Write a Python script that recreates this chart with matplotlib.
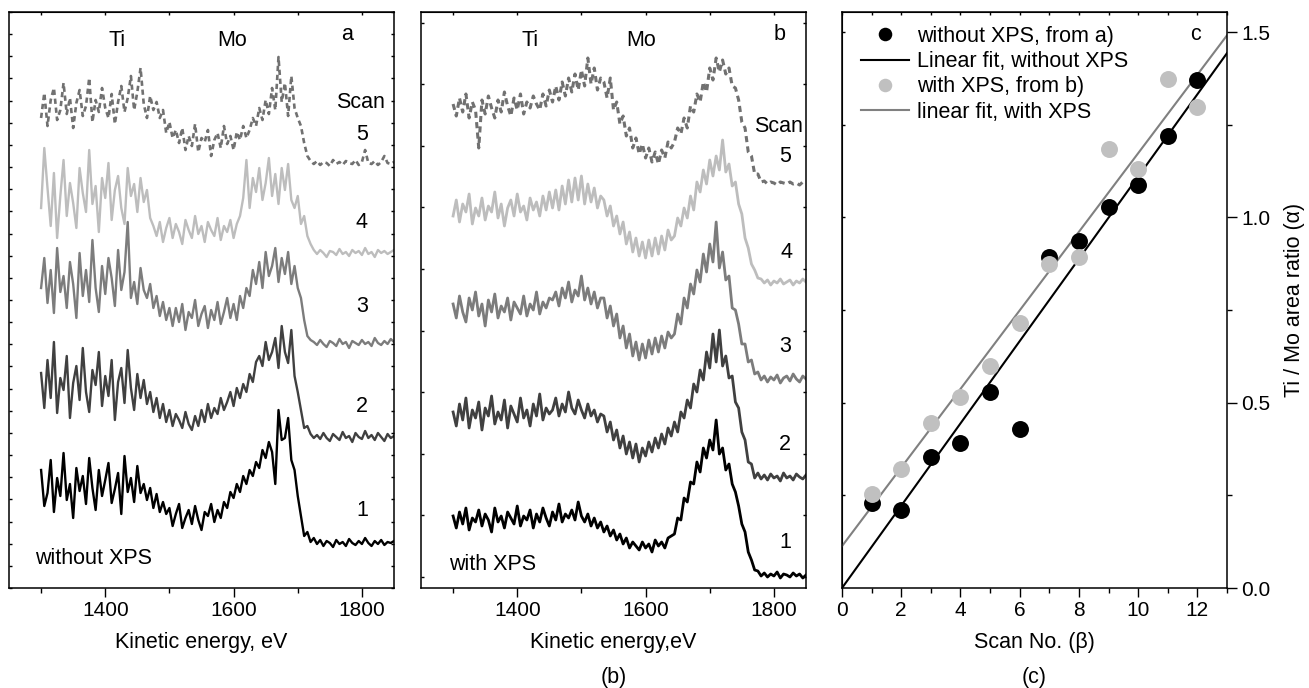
import numpy as np
import matplotlib
matplotlib.use('Agg')
import matplotlib.pyplot as plt
from matplotlib.ticker import FixedLocator

plt.rcParams['font.family'] = ['Liberation Sans', 'DejaVu Sans']

# ---------------- data ----------------
energy = np.arange(1300, 1851, 5)  # kinetic energy grid, eV

# panel a (without XPS), offset intensities, a.u.
a_scan1 = [118, 82, 95, 128, 76, 110, 92, 135, 88, 104, 70, 120, 97, 112, 84, 130, 100, 78, 118, 92, 108, 125, 85, 99, 115, 74, 132, 96, 110, 86, 122, 95, 104,
           88, 100, 80, 94, 76, 86, 74,
           80, 62, 74, 84, 60, 70, 78, 64, 82, 68, 58, 76, 72, 84, 66, 78,
           70, 86, 80, 96, 90, 104, 96, 112, 104, 118, 112, 126, 120, 138, 130, 146, 136, 104, 178, 148, 150, 170, 128, 118, 92, 72, 52, 56, 46,
           50, 44, 48, 42, 47, 45, 41, 48, 44, 46, 42, 49, 45, 43, 47, 44, 50, 45, 42, 47, 44, 48, 43, 46, 45, 47]
a_scan2 = [215, 180, 228, 190, 246, 175, 210, 198, 232, 170, 205, 222, 188, 240, 196, 176, 218, 203, 236, 182, 212, 192, 228, 168, 206, 220, 185, 238, 200, 178, 214, 190, 208, 184,
           196, 176, 190, 170, 184, 166, 178, 162, 174, 168,
           160, 176, 164, 158, 172, 162, 178, 166, 184, 170, 180,
           174, 190, 178, 186, 196, 182, 200, 190, 204, 196, 214, 206, 226, 232,
           222, 246, 228, 236, 250, 220, 262, 236, 225, 258, 212, 196,
           178, 160, 162, 154, 150,
           153, 149, 155, 150, 147, 154, 151, 148, 156, 150, 152, 146, 155, 151, 149, 157, 150, 153, 148, 155, 151, 147, 154, 150, 152]
a_scan3 = [300, 330, 285, 318, 275, 340, 296, 312, 280, 326, 304, 270, 335, 292, 318, 286, 348, 300, 276, 322, 294, 330, 310, 282, 338, 298, 316, 366, 290, 306, 284, 320, 298,
           290, 304, 280, 292, 272, 286, 268, 280,
           262, 280, 266, 284, 258, 276, 270, 288, 262, 274, 282, 260, 278, 268, 286, 264, 276, 290, 270, 284, 268, 292, 280,
           300, 292, 318, 304, 326, 300, 336, 312, 322, 340, 306, 330, 314, 336, 304, 322, 300,
           290, 268, 252, 248,
           246, 243, 248, 244, 241, 247, 245, 242, 249, 244, 246, 240, 247, 245, 243, 248, 244, 246, 242, 250, 245, 243, 247, 244, 249, 246]
a_scan4 = [380, 440, 400, 362, 415, 350, 392, 428, 372, 405, 385, 360, 420, 395, 376, 438, 384, 402, 356, 410, 390, 425, 368, 398, 412, 380, 364, 420, 392, 404, 376, 410, 386, 398, 370,
           362, 352, 366, 346, 360, 370, 350, 364, 356, 344, 368, 358, 350, 372, 354, 362, 346, 366, 358, 352, 370, 348, 362, 356, 368, 350, 364, 372,
           390, 428, 380, 410, 396, 420, 388, 405, 430, 392, 414, 384, 420, 398, 424, 388,
           380, 392, 364, 372, 352, 344, 338,
           334, 338, 335, 331, 337, 336, 333, 339, 334, 336, 332, 338, 335, 337, 333, 340, 334, 336, 331, 338, 335, 337, 334, 336, 338]
a_scan5 = [470, 495, 462, 488, 500, 468, 478, 505, 474, 490, 460, 485, 498, 472, 482, 510, 466, 488, 476, 500, 480, 470, 494, 464, 486, 502, 476, 490, 512, 478, 496, 520, 484, 470, 492, 478, 486,
           470, 478, 455, 466, 450, 458,
           445, 460, 438, 452, 442, 464, 436, 450, 446, 458, 432, 448, 455, 440, 462, 444, 452, 438, 456, 448, 462, 450,
           458, 470, 462, 480, 468, 488, 474, 500, 478, 531, 486, 505, 472, 512, 480, 470,
           462, 445, 432, 427,
           424, 427, 423, 426, 425, 422, 428, 424, 426, 423, 427, 425, 424, 428, 423, 426, 438, 425, 424, 427, 423, 426, 432, 425, 424, 426]

# panel b (with XPS)
b_scan1 = [72, 60, 76, 64, 80, 58, 70, 66, 78, 62, 74, 68, 56, 80, 66, 72, 60, 76, 70, 64, 82, 62, 72, 68, 78, 60, 74, 66, 80, 70, 62, 76, 68, 84, 66, 74, 70,
           78, 68, 86, 72, 66, 74, 62, 70, 60, 66,
           56, 62, 52, 58, 48, 54, 44, 50, 40, 46, 42, 38, 46, 40, 44, 36, 48, 42, 46, 40, 50, 52,
           54, 70, 68, 90, 86, 106, 104, 126, 116, 140, 130, 148, 138, 168, 134, 140, 118, 124, 104, 96,
           82, 64, 56, 36, 28, 18, 17, 12, 15, 11, 14, 12, 16, 10, 14, 13, 11, 15, 12, 14, 10, 13]
b_scan2 = [176, 162, 184, 168, 190, 160, 178, 170, 186, 158, 180, 172, 192, 164, 176, 168, 188, 160, 182, 174, 166, 190, 170, 178, 162, 184, 172, 194, 168, 180, 174,
           178, 190, 172, 184, 176, 196, 180, 174, 188, 178, 170, 184, 172, 178, 166, 174,
           172, 156, 166, 148, 158, 140, 152, 134, 146, 130, 144, 126, 140, 132, 146, 136, 150, 140, 154, 144, 160, 152,
           166, 156, 176, 170, 188, 180, 204, 196, 218, 208, 236, 220, 254, 226, 258, 222, 232, 210, 212, 186,
           180, 156, 148, 126, 124, 110, 115, 109, 113, 108, 114, 110, 112, 107, 115, 110, 112, 108, 114, 111, 109, 113]
b_scan3 = [284, 270, 292, 276, 266, 290, 278, 296, 272, 284, 262, 288, 276, 294, 270, 282, 276, 290, 268, 286, 280, 274, 292, 272, 284, 278, 296, 274, 286, 280, 290,
           288, 296, 282, 300, 290, 306, 286, 298, 292, 312, 288, 300, 284, 296, 280, 290,
           290, 270, 282, 262, 274, 250, 262, 240, 254, 232, 246, 228, 244, 230, 248, 234, 250, 236, 252, 240, 256, 250,
           254, 274, 264, 290, 280, 304, 294, 318, 306, 334, 316, 344, 326, 366, 320, 336, 308, 312, 280, 278,
           264, 244, 244, 226, 228, 214, 216, 208, 212, 206, 211, 208, 213, 205, 210, 212, 207, 214, 209, 206, 212, 209]
b_scan4 = [372, 388, 366, 384, 376, 394, 364, 380, 372, 390, 368, 382, 376, 396, 370, 384, 362, 380, 388, 372, 394, 376, 382, 368, 390, 378, 386,
           372, 392, 378, 396, 380, 398, 378, 402, 384, 408, 386, 410, 388, 412, 384, 404, 386, 400, 380, 392,
           388, 372, 382, 362, 372, 354, 366, 344, 356, 336, 350, 332, 346, 330, 348, 332, 350, 334, 352, 338, 358, 348,
           352, 370, 362, 380, 370, 392, 378, 406, 396, 418, 404, 428, 412, 432, 418, 448, 416, 424, 402, 406,
           384, 374, 350, 340, 324, 318, 310, 309, 305, 308, 303, 307, 305, 309, 304, 306, 308, 303, 307, 305, 309, 306]
b_scan5 = [484, 472, 490, 476, 494, 470, 486, 478, 440, 488, 474, 492, 480, 470, 488, 476, 496, 482, 472, 490, 478, 494, 474, 486, 480, 492, 484,
           478, 494, 482, 498, 486, 502, 488, 506, 492, 510, 496, 514, 498, 518, 502, 530, 504, 520, 498, 510,
           506, 490, 510, 478, 486, 464, 472, 452, 460, 440, 450, 434, 444, 430, 440, 426, 436, 424, 438, 430, 446, 440,
           446, 460, 454, 470, 460, 482, 476, 494, 486, 506, 496, 520, 508, 530, 516, 528, 514, 520, 502, 500,
           488, 466, 460, 436, 432, 414, 414, 406, 407, 404, 406, 405, 403, 406, 405, 404, 406, 404, 405, 403, 406, 405]

scan_labels = ['1', '2', '3', '4', '5']
scan_colors = ['#000000', '#404040', '#7c7c7c', '#bdbdbd', '#717171']

# panel c
scan_no = [1, 2, 3, 4, 5, 6, 7, 8, 9, 10, 11, 12]
ratio_without = [0.23, 0.21, 0.353, 0.39, 0.53, 0.43, 0.893, 0.936, 1.028, 1.087, 1.219, 1.37]
ratio_with = [0.254, 0.321, 0.445, 0.516, 0.60, 0.715, 0.874, 0.893, 1.184, 1.13, 1.373, 1.298]
fit_without = (0.0, 0.111)    # intercept, slope
fit_with = (0.113, 0.106)     # intercept, slope

# ---------------- figure ----------------
W, H = 1309, 688
fig = plt.figure(figsize=(W / 100, H / 100), dpi=100)

def px_axes(left, top, right, bottom):
    return fig.add_axes([left / W, 1 - bottom / H, (right - left) / W, (bottom - top) / H])

FS = 15.5
TFS = 15

def spectra_panel(ax, curves, ticks_y, title_letter, cond_text, label_pos, scan_pos, ti_mo_pos, cond_pos, lw):
    for i, (vals, col) in enumerate(zip(curves, scan_colors)):
        assert len(vals) == len(energy), (title_letter, i, len(vals))
        if i == 4:
            ax.plot(energy, vals, color=col, lw=lw + 0.2, ls=(0, (2.0, 1.4)))
        else:
            ax.plot(energy, vals, color=col, lw=lw)
    ax.set_xlim(1250, 1850)
    ax.set_ylim(0, 576)
    ax.xaxis.set_major_locator(FixedLocator([1400, 1600, 1800]))
    ax.xaxis.set_minor_locator(FixedLocator([1300, 1500, 1700]))
    ax.tick_params(axis='x', which='major', direction='out', length=6.3, width=1, labelsize=TFS, pad=3)
    ax.tick_params(axis='x', which='minor', direction='out', length=3.8, width=1)
    ax.set_yticks(ticks_y)
    ax.tick_params(axis='y', which='both', direction='in', left=True, right=True,
                   labelleft=False, length=2.5, width=1)
    top = ax.secondary_xaxis('top')
    top.set_xticks([1300, 1400, 1500, 1600, 1700, 1800])
    top.set_xticklabels([])
    top.tick_params(direction='in', length=2.5, width=1)
    for sp in ax.spines.values():
        sp.set_linewidth(1.1)
    ax.text(ti_mo_pos[0], ti_mo_pos[2], 'Ti', fontsize=FS, ha='center', va='center')
    ax.text(ti_mo_pos[1], ti_mo_pos[2], 'Mo', fontsize=FS, ha='center', va='center')
    ax.text(label_pos[0], label_pos[1], title_letter, fontsize=FS, ha='center', va='center')
    ax.text(scan_pos[0][0], scan_pos[0][1], 'Scan', fontsize=FS, ha='center', va='center')
    for lab, (x, y) in zip(scan_labels, scan_pos[1:]):
        ax.text(x, y, lab, fontsize=FS, ha='center', va='center')
    ax.text(cond_pos[0], cond_pos[1], cond_text, fontsize=FS, ha='left', va='center')

ax_a = px_axes(9, 12, 394, 588)
spectra_panel(ax_a, [a_scan1, a_scan2, a_scan3, a_scan4, a_scan5], np.linspace(0, 576, 27), 'a', 'without XPS',
              (1777, 553), [(1798, 485), (1800, 77), (1800, 181), (1800, 281), (1800, 366), (1800, 453)],
              (1418, 1598, 547), (1290, 30), 1.7)
ax_a.set_xlabel('Kinetic energy, eV', fontsize=FS, labelpad=9)

ax_b = px_axes(421, 12, 806, 588)
spectra_panel(ax_b, [b_scan1, b_scan2, b_scan3, b_scan4, b_scan5], np.arange(11, 577, 61.6), 'b', 'with XPS',
              (1809, 553), [(1807, 461), (1817, 45), (1817, 143), (1817, 241), (1820, 335), (1817, 431)],
              (1420, 1593, 548), (1293, 23), 2.0)
ax_b.set_xlabel('Kinetic energy,eV', fontsize=FS, labelpad=9)
ax_b.text(0.5, -0.156, '(b)', transform=ax_b.transAxes, fontsize=FS, ha='center', va='center')

# panel c
ax_c = px_axes(842, 12, 1227, 588)
ax_c.plot(scan_no, ratio_without, 'o', color='black', ms=12.2, mec='none', zorder=3,
          label='without XPS, from a)')
xfit = np.array([0, 13])
ax_c.plot(xfit, fit_without[0] + fit_without[1] * xfit, color='black', lw=1.5, zorder=2,
          label='Linear fit, without XPS')
ax_c.plot(scan_no, ratio_with, 'o', color='#c0c0c0', ms=12.2, mec='none', zorder=4,
          label='with XPS, from b)')
ax_c.plot(xfit, fit_with[0] + fit_with[1] * xfit, color='#808080', lw=1.5, zorder=2,
          label='linear fit, with XPS')
ax_c.set_xlim(0, 13)
ax_c.set_ylim(0, 1.554)
ax_c.xaxis.set_major_locator(FixedLocator(list(range(0, 13, 2))))
ax_c.xaxis.set_minor_locator(FixedLocator(list(range(1, 14, 2))))
ax_c.tick_params(axis='x', which='major', direction='out', length=6.3, width=1, labelsize=TFS, pad=3)
ax_c.tick_params(axis='x', which='minor', direction='out', length=3.8, width=1)
ax_c.yaxis.tick_right()
ax_c.yaxis.set_label_position('right')
ax_c.yaxis.set_major_locator(FixedLocator([0, 0.5, 1.0, 1.5]))
ax_c.yaxis.set_minor_locator(FixedLocator([0.25, 0.75, 1.25]))
ax_c.tick_params(axis='y', which='major', direction='out', length=7, width=1, labelsize=TFS, pad=3)
ax_c.tick_params(axis='y', which='minor', direction='out', length=3.8, width=1)
ax_c.set_yticklabels(['0.0', '0.5', '1.0', '1.5'])
lft = ax_c.secondary_yaxis('left')
lft.set_yticks([0.25, 0.5, 0.75, 1.0, 1.25, 1.5])
lft.set_yticklabels([])
lft.tick_params(direction='in', length=2.5, width=1)
topc = ax_c.secondary_xaxis('top')
topc.set_xticks(list(range(0, 14)))
topc.set_xticklabels([])
topc.tick_params(direction='in', length=2.5, width=1)
for sp in ax_c.spines.values():
    sp.set_linewidth(1.1)
ax_c.set_xlabel('Scan No. (β)', fontsize=FS, labelpad=9)
ax_c.set_ylabel('Ti / Mo area ratio (α)', fontsize=FS, labelpad=10)
ax_c.text(0.5, -0.156, '(c)', transform=ax_c.transAxes, fontsize=FS, ha='center', va='center')
ax_c.text(11.93, 1.492, 'c', fontsize=FS, ha='center', va='center')
ax_c.legend(loc='upper left', bbox_to_anchor=(0.05, 0.976), frameon=False, fontsize=FS,
            borderaxespad=0, borderpad=0, labelspacing=0.2, handlelength=2.2,
            handletextpad=0.4, markerscale=0.8)

fig.savefig('out.png', dpi=100)
